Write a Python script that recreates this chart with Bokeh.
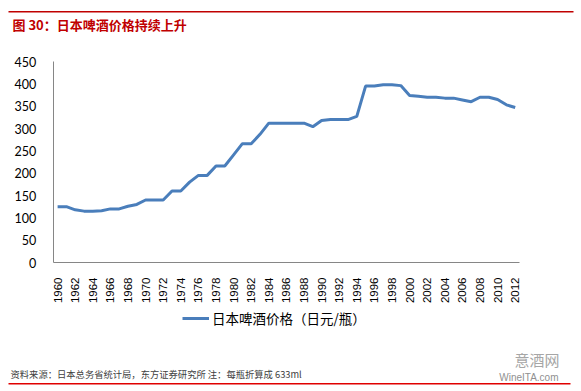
from bokeh.plotting import figure
from bokeh.models import (FixedTicker, Range1d, Label, BoxAnnotation, Legend, LegendItem)
from bokeh.embed import file_html
from bokeh.resources import INLINE
import math

years = list(range(1960, 2013))
price = [125, 125, 118, 115, 115, 116, 120, 120, 126, 130,
         140, 140, 140, 160, 160, 180, 195, 195, 216, 216,
         241, 266, 266, 287, 312, 312, 312, 312, 312, 304,
         318, 320, 320, 320, 327, 395, 395, 398, 398, 396,
         374, 372, 370, 370, 368, 368, 364, 360, 370, 370,
         365, 353, 347]
y_ticks = [0, 50, 100, 150, 200, 250, 300, 350, 400, 450]
x_ticks = list(range(1960, 2013, 2))

title_text = "图 30：日本啤酒价格持续上升"
legend_text = "日本啤酒价格（日元/瓶）"
source_text = "资料来源：日本总务省统计局，东方证券研究所 注：每瓶折算成 633ml"
wm_cn = "意酒网"
wm_en = "WineITA.com"

W, H = 576, 387
# plot-area geometry in canvas pixels
AX_LEFT, AX_RIGHT = 52.7, 519.1
AX_BOTTOM, AX_TOP = 262.0, 61.0
x0, x1 = years[0] - 0.5, years[-1] + 0.5
y0, y1 = y_ticks[0], y_ticks[-1]
xs = (AX_RIGHT - AX_LEFT) / (x1 - x0)
ys = (AX_BOTTOM - AX_TOP) / (y1 - y0)
xr = Range1d(x0 - AX_LEFT / xs, x1 + (W - AX_RIGHT) / xs)
yr = Range1d(y0 - (H - AX_BOTTOM) / ys, y1 + AX_TOP / ys)

p = figure(width=W, height=H, output_backend="svg", toolbar_location=None,
           x_range=xr, y_range=yr,
           min_border_left=0, min_border_right=0, min_border_top=0, min_border_bottom=0)
p.outline_line_color = None
p.xgrid.grid_line_color = None
p.ygrid.grid_line_color = None
p.background_fill_color = "white"
p.border_fill_color = "white"

axis_col = "#868686"
p.yaxis.ticker = FixedTicker(ticks=y_ticks)
p.xaxis.ticker = FixedTicker(ticks=x_ticks)
p.yaxis.fixed_location = x0
p.xaxis.fixed_location = y0
p.yaxis.bounds = (y0, y1)
p.xaxis.bounds = (x0, x1)
for ax in (p.xaxis, p.yaxis):
    ax.axis_line_color = axis_col
    ax.axis_line_width = 1
    ax.major_tick_line_color = None
    ax.minor_tick_line_color = None
    ax.major_label_text_color = "#000000"
p.yaxis.major_label_text_font = "Lato"
p.yaxis.major_label_text_font_size = "12.5px"
p.yaxis.major_label_standoff = 11
p.xaxis.major_label_text_font = "Liberation Sans"
p.xaxis.major_label_text_font_size = "11.5px"
p.xaxis.major_label_orientation = math.pi / 2
p.xaxis.major_label_standoff = 9

r = p.line(years, price, line_color="#4A7EBB", line_width=3)

legend = Legend(items=[LegendItem(label=legend_text, renderers=[r])],
                location=(182, H - 328), orientation="horizontal",
                border_line_color=None, background_fill_alpha=0,
                padding=0, margin=0, glyph_width=27, glyph_height=16,
                label_height=16, label_standoff=3,
                label_text_font="Noto Sans CJK SC", label_text_font_size="13.5px",
                label_text_color="#000000")
p.add_layout(legend, "center")

def sy(py):
    return H - py

p.add_layout(Label(x=12, y=sy(23.8), x_units="screen", y_units="screen",
                   text=title_text, text_font="Noto Sans CJK SC", text_font_size="13px",
                   text_font_style="bold", text_color="#C00000", text_baseline="middle"))
p.add_layout(Label(x=10, y=sy(373), x_units="screen", y_units="screen",
                   text=source_text, text_font="Noto Sans CJK SC", text_font_size="9.3px",
                   text_color="#404040", text_baseline="middle"))
p.add_layout(Label(x=559, y=sy(359), x_units="screen", y_units="screen",
                   text=wm_cn, text_font="Noto Sans CJK SC", text_font_size="15px",
                   text_color="#A6A6A6", text_align="right", text_baseline="middle"))
p.add_layout(Label(x=558, y=sy(377), x_units="screen", y_units="screen",
                   text=wm_en, text_font="Liberation Sans", text_font_size="10px",
                   text_color="#909090", text_align="right", text_baseline="middle"))

p.add_layout(BoxAnnotation(left=8, right=573, bottom=sy(12), top=sy(10.5),
                           left_units="screen", right_units="screen",
                           bottom_units="screen", top_units="screen",
                           fill_color="#C00000", fill_alpha=1, line_color=None))
p.add_layout(BoxAnnotation(left=8, right=570, bottom=sy(384), top=sy(382.5),
                           left_units="screen", right_units="screen",
                           bottom_units="screen", top_units="screen",
                           fill_color="#E00000", fill_alpha=1, line_color=None))

open("out.html", "w").write(file_html(p, INLINE))
